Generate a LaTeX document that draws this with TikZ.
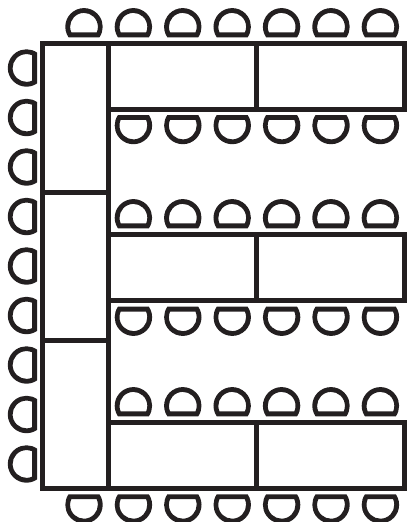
\documentclass[tikz,border=0pt]{standalone}
\definecolor{ink}{HTML}{231F20}
\tikzset{
  ln/.style={draw=ink,line width=5pt,line join=miter,miter limit=10},
  chairshape/.pic={\fill[ink,even odd rule]
    (-15.47,10.5) arc[start angle=145.8,end angle=394.2,radius=18.7] -- cycle
    (-12.7,5.6) arc[start angle=156.2,end angle=383.8,radius=13.9] -- cycle;}
}
\begin{document}
\begin{tikzpicture}[x=1pt,y=-1pt]
\useasboundingbox (0,0) rectangle (408,522);
% tables
\draw[ln] (42.5,43.5) rectangle (108,488);
\draw[ln] (42.5,192) -- (108,192);
\draw[ln] (42.5,340) -- (108,340);
\draw[ln] (108,43.5) rectangle (404.5,109);
\draw[ln] (108,234.8) rectangle (404.5,300.3);
\draw[ln] (108,422.7) rectangle (404.5,488);
\foreach \y/\h in {43.5/109,234.8/300.3,422.7/488}
  \draw[ln] (256,\y) -- (256,\h);
% chairs with flat side below
\foreach \x in {84,133.4,182.8,232.2,281.6,331,380.4}
  \pic at (\x,26.8) {chairshape};
\foreach \x in {133.4,182.8,232.2,281.6,331,380.4}{
  \pic at (\x,217.8) {chairshape};
  \pic at (\x,405.8) {chairshape};
}
% chairs with flat side above
\foreach \x in {133.4,182.8,232.2,281.6,331,380.4}{
  \pic[rotate=180] at (\x,125.5) {chairshape};
  \pic[rotate=180] at (\x,317.2) {chairshape};
}
\foreach \x in {84,133.4,182.8,232.2,281.6,331,380.4}
  \pic[rotate=180] at (\x,504.8) {chairshape};
% left chairs
\foreach \y in {68,117.5,167,216.5,266,315.5,365,414.5,464}
  \pic[rotate=90] at (26.5,\y) {chairshape};
\end{tikzpicture}
\end{document}
